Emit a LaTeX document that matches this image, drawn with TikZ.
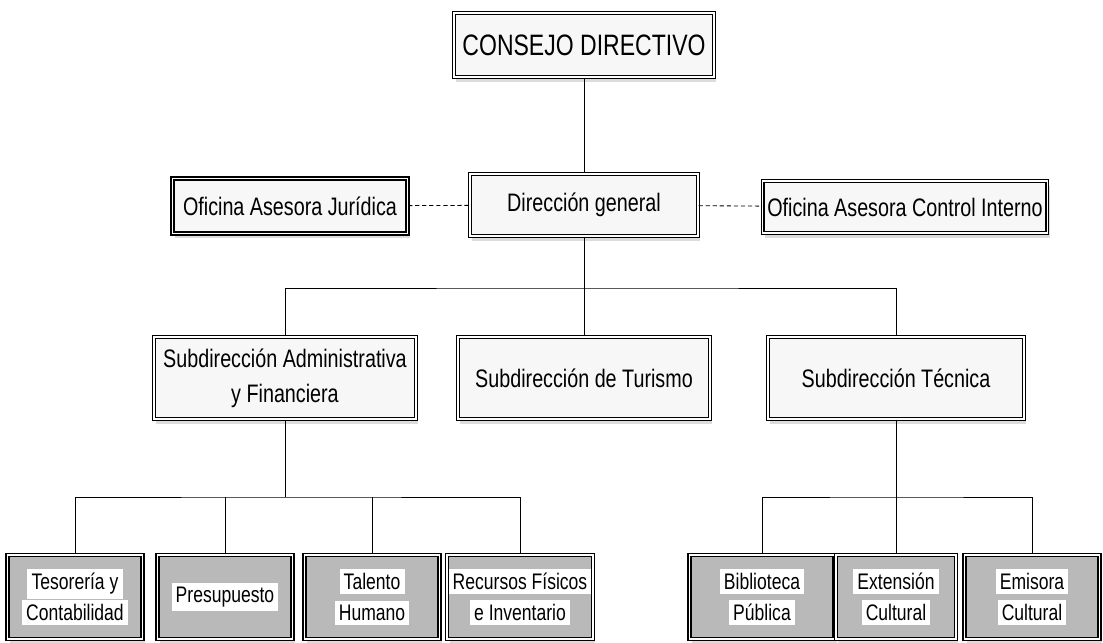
\documentclass[tikz,border=0pt]{standalone}
\usepackage{fontspec}
\setmainfont{Liberation Sans}[FakeStretch=0.78]
\usepackage{xcolor}
\usetikzlibrary{
    arrows.meta,
    shapes,
    positioning,
    shadows,
    calc
}
\newcommand{\lbl}[1]{\colorbox{white}{#1}}
\tikzset{%
    % Specifications for style of nodes:
    plain/.style = {},
    base/.style = {
        plain,
        rectangle, draw=black, line width=0.9pt,
        double=white, double distance=1.1pt,
        text centered, align=center,
        fill=gray!6,
        drop shadow={shadow xshift=0.6mm, shadow yshift=-1.2mm, fill=gray!55}
    },
    top/.style = {base, font=\fontsize{21}{23}\selectfont},
    mid/.style = {base, font=\fontsize{18}{25}\selectfont},
    unit/.style = {base, fill=gray!55, inner sep=1pt,
        font=\fontsize{16}{22}\selectfont},
    link/.style = {draw=black, line width=0.6pt}
}
\begin{document}
\begin{tikzpicture}[>=stealth]
                \useasboundingbox (0,0) rectangle (27.575,-16.05);
                \node[top, minimum width=6.5cm, minimum height=1.6cm] (consejo) at (14.6,-1.125) {CONSEJO DIRECTIVO};
                \node[mid, minimum width=5.7cm, minimum height=1.55cm] (direccion) at (14.6,-5.125) {Dirección general};
                \node[mid, minimum width=5.875cm, minimum height=1.375cm] (juridica) at (7.25,-5.15) {Oficina Asesora Jurídica};
                \node[mid, minimum width=7cm, minimum height=1.3cm] (control) at (22.625,-5.175) {Oficina Asesora Control Interno};
                \node[mid, minimum width=6.55cm, minimum height=2.05cm] (sadmin) at (7.125,-9.45) {Subdirección Administrativa\\y Financiera};
                \node[mid, minimum width=6.3cm, minimum height=2.05cm] (sturismo) at (14.6,-9.45) {Subdirección de Turismo};
                \node[mid, minimum width=6.4cm, minimum height=2.05cm] (stecnica) at (22.4,-9.45) {Subdirección Técnica};
                \node[unit, minimum width=3.375cm, minimum height=2.1cm] (tesoreria) at (1.875,-14.925) {\lbl{Tesorería y}\\\lbl{Contabilidad}};
                \node[unit, minimum width=3.375cm, minimum height=2.1cm] (presupuesto) at (5.625,-14.925) {\lbl{Presupuesto}};
                \node[unit, minimum width=3.375cm, minimum height=2.1cm] (talento) at (9.3,-14.925) {\lbl{Talento}\\\lbl{Humano}};
                \node[unit, minimum width=3.5cm, minimum height=2.1cm] (recursos) at (13.0,-14.925) {\lbl{Recursos Físicos}\\\lbl{e Inventario}};
                \node[unit, minimum width=3.625cm, minimum height=2.1cm] (biblioteca) at (19.05,-14.925) {\lbl{Biblioteca}\\\lbl{Pública}};
                \node[unit, minimum width=3cm, minimum height=2.1cm] (extension) at (22.4,-14.925) {\lbl{Extensión}\\\lbl{Cultural}};
                \node[unit, minimum width=3.375cm, minimum height=2.1cm] (emisora) at (25.8,-14.925) {\lbl{Emisora}\\\lbl{Cultural}};
                % buses
                \coordinate (busA) at (0,-7.2);
                \coordinate (busB) at (0,-12.425);
                \draw[link] (consejo) -- (direccion);
                \draw[link, densely dashed] (juridica) -- (direccion);
                \draw[link, densely dashed] (direccion) -- (control);
                \draw[link] (direccion) -- (sturismo);
                \draw[link] (sadmin.north) |- (direccion |- busA) -| (stecnica.north);
                \draw[link] (sadmin) -- (sadmin |- busB);
                \draw[link] (tesoreria.north) |- (sadmin |- busB) -| (recursos.north);
                \draw[link] (presupuesto.north) -- (presupuesto |- busB);
                \draw[link] (talento.north) -- (talento |- busB);
                \draw[link] (stecnica) -- (extension);
                \draw[link] (biblioteca.north) |- (stecnica |- busB) -| (emisora.north);
            \end{tikzpicture}
\end{document}
